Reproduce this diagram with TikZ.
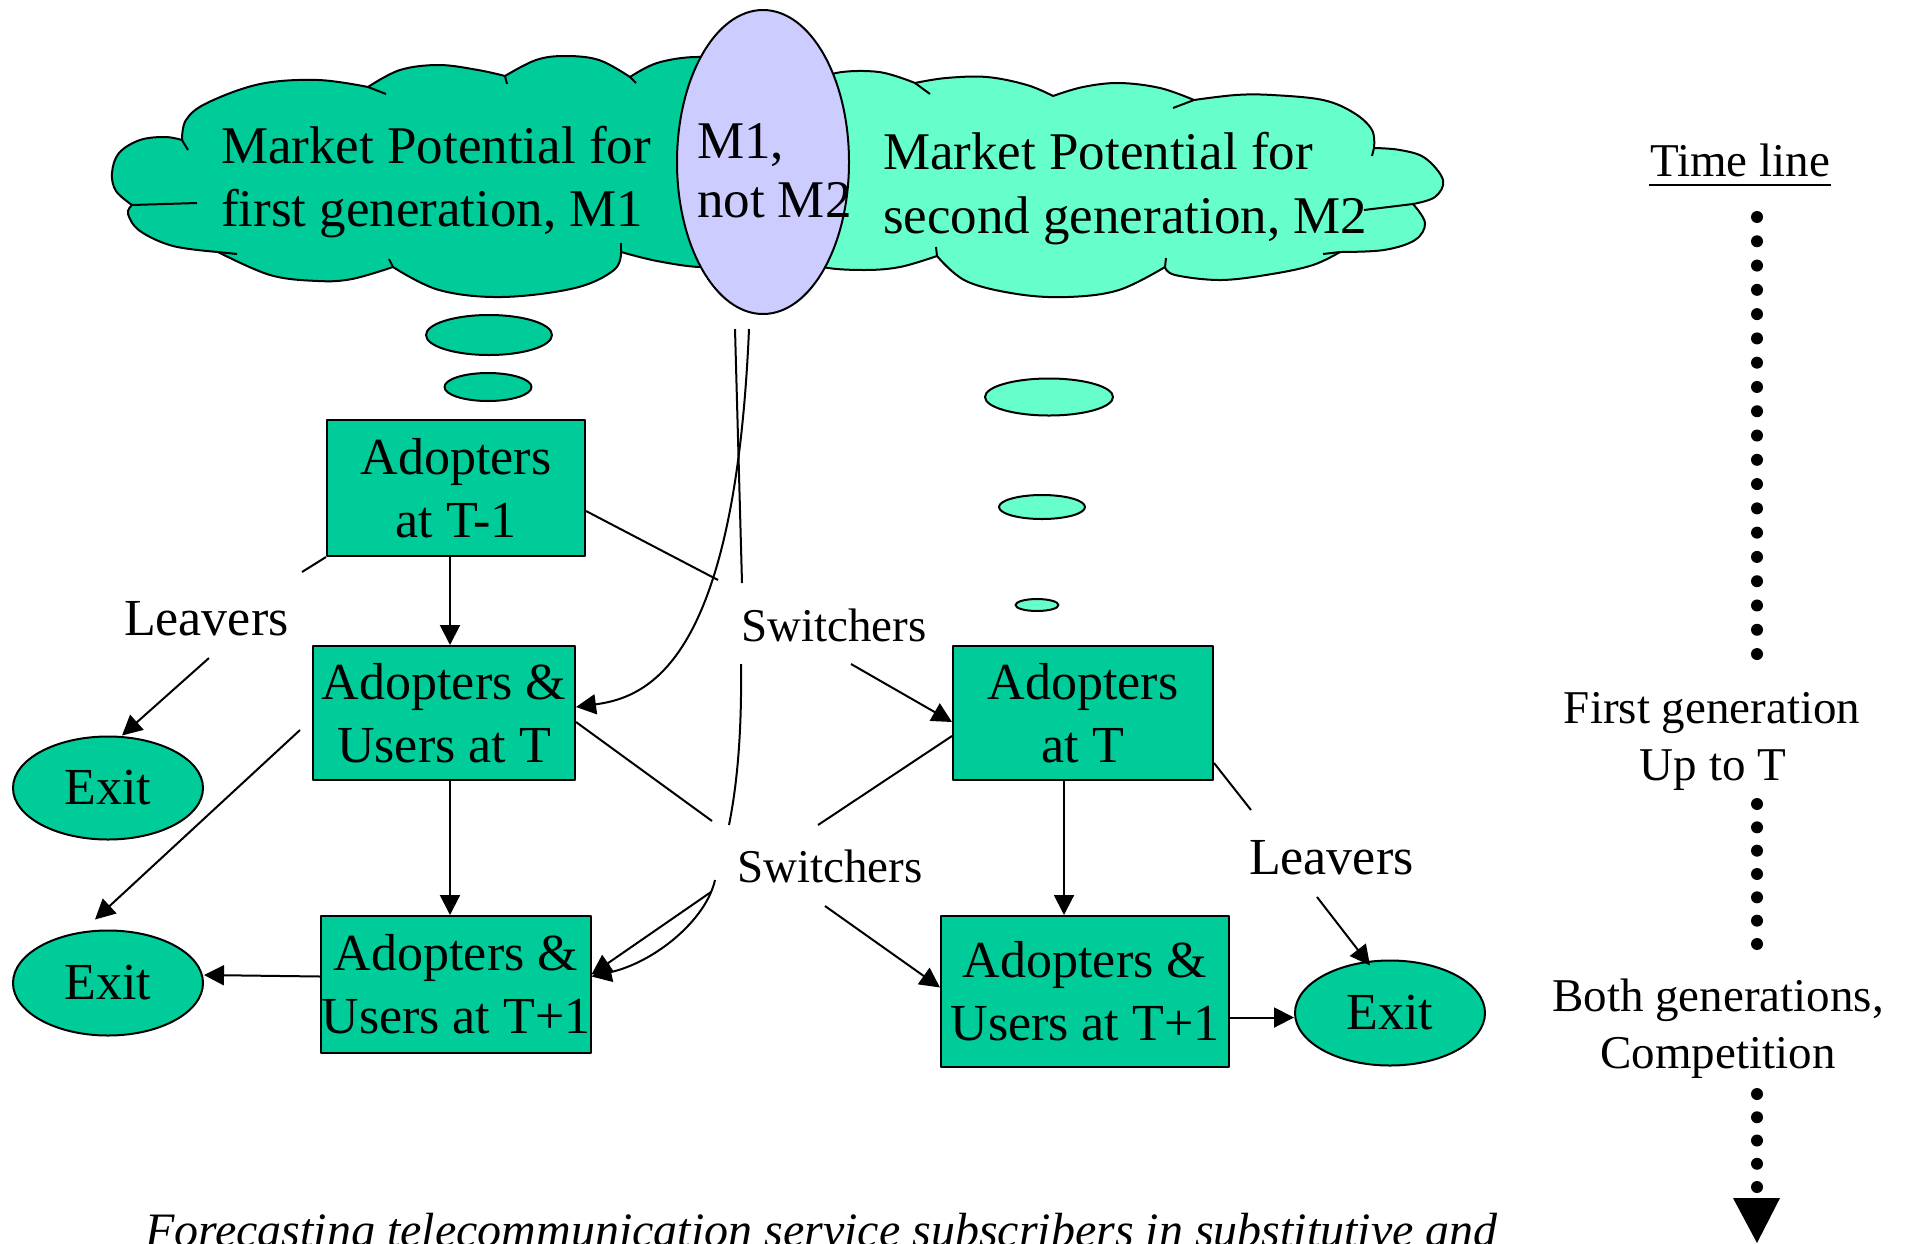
\documentclass[tikz,border=0pt]{standalone}
\usepackage{fontspec}
\setmainfont{Liberation Serif}
\usetikzlibrary{arrows.meta,shapes.geometric}
\definecolor{tealA}{HTML}{00CC99}
\definecolor{mintB}{HTML}{66FFCC}
\definecolor{lavC}{HTML}{CCCCFF}
\newcommand\fbig{\fontsize{53}{63}\selectfont}
\newcommand\fmain{\fontsize{52}{63}\selectfont}
\newcommand\fsmall{\fontsize{47}{56}\selectfont}
\newcommand\fcap{\fontsize{48}{57}\selectfont\itshape}
\begin{document}
\begin{tikzpicture}[x=1pt, y=-1pt, line width=2pt, line join=round,
  boxnode/.style={draw, fill=tealA, inner sep=0pt, align=center, font=\fmain},
  exitnode/.style={draw, fill=tealA, ellipse, inner sep=0pt, font=\fmain, minimum width=190pt},
  bub/.style={draw, ellipse, inner sep=0pt},
  arr/.style={-{Triangle[length=20pt,width=20pt]}},
  txt/.style={inner sep=0pt, anchor=base west},
  ctxt/.style={inner sep=0pt, anchor=base},
  pf/.style={smooth, tension=0.6}]
\useasboundingbox (0,0) rectangle (1908,1243);

% ---- left cloud (M1)
\path[draw, fill=tealA] (132,205)
 -- plot[pf] coordinates {(132,205) (116,191) (112,173) (119,153) (140,140) (165,137) (182,140)}
 -- plot[pf] coordinates {(182,140) (186,120) (207,103) (260,84) (318,80) (368,87)}
 -- plot[pf] coordinates {(368,87) (400,70) (439,65) (478,70) (505,76)}
 -- plot[pf] coordinates {(505,76) (536,60) (565,56) (599,60) (630,77)}
 -- plot[pf] coordinates {(630,77) (657,63) (696,57) (735,62) (760,85)}
 -- (775,160) -- (760,240)
 -- plot[pf] coordinates {(760,240) (735,262) (701,267) (657,261) (621,252)}
 -- plot[pf] coordinates {(621,252) (614,270) (575,288) (502,297) (439,290) (393,267)}
 -- plot[pf] coordinates {(393,267) (352,279) (318,281) (270,275) (218,252)}
 -- plot[pf] coordinates {(218,252) (173,246) (140,231) (128,214) (132,205)}
 -- cycle;
\draw (132,205) -- (197,203);
\draw (182,140) -- (188,150);
\draw (368,87) -- (386,94);
\draw (505,76) -- (507,84);
\draw (630,77) -- (636,83);
\draw (621,252) -- (621,243);
\draw (393,267) -- (389,259);
\draw (218,252) -- (237,254);

% ---- right cloud (M2)
\path[draw, fill=mintB] (800,110)
 -- plot[pf] coordinates {(800,110) (812,86) (836,73) (879,72) (915,83)}
 -- plot[pf] coordinates {(915,83) (946,78) (987,77) (1027,85) (1053,96)}
 -- plot[pf] coordinates {(1053,96) (1083,87) (1119,83) (1160,88) (1194,100)}
 -- plot[pf] coordinates {(1194,100) (1236,95) (1272,95) (1323,100) (1354,113) (1372,130) (1374,148)}
 -- plot[pf] coordinates {(1374,148) (1400,150) (1425,158) (1443,180) (1435,197) (1413,204)}
 -- plot[pf] coordinates {(1413,204) (1425,223) (1415,240) (1384,250) (1340,252)}
 -- plot[pf] coordinates {(1340,252) (1313,265) (1272,274) (1221,280) (1175,275) (1165,267)}
 -- plot[pf] coordinates {(1165,267) (1119,290) (1068,297) (1017,294) (966,281) (937,256)}
 -- plot[pf] coordinates {(937,256) (900,267) (864,270) (823,267) (800,255)}
 -- (790,180) -- cycle;
\draw (915,83) -- (930,94);
\draw (1194,100) -- (1173,108);
\draw (1374,148) -- (1372,156);
\draw (1413,204) -- (1364,210);
\draw (1340,252) -- (1323,254);
\draw (1165,267) -- (1166,258);
\draw (937,256) -- (936,247);

% ---- overlap ellipse
\node[draw, fill=lavC, ellipse, inner sep=0pt, minimum width=172pt, minimum height=304pt] (M12) at (763,162) {};

% cloud texts
\node[txt, font=\fbig] (t1a) at (220,163) {Market Potential for};
\node[txt, font=\fbig] (t1b) at (220,226) {first generation, M1};
\node[txt, font=\fbig] (t2a) at (882,169) {Market Potential for};
\node[txt, font=\fbig] (t2b) at (882,233) {second generation, M2};
\node[txt, font=\fbig] (t3a) at (696,158) {M1,};
\node[txt, font=\fbig] (t3b) at (696,217) {not M2};

% thought bubbles
\node[bub, fill=tealA, minimum width=126pt, minimum height=40pt] (bl1) at (489,335) {};
\node[bub, fill=tealA, minimum width=87pt, minimum height=28pt] (bl2) at (488,387) {};
\node[bub, fill=mintB, minimum width=128pt, minimum height=37pt] (br1) at (1049,397) {};
\node[bub, fill=mintB, minimum width=86pt, minimum height=24pt] (br2) at (1042,507) {};
\node[bub, fill=mintB, minimum width=43pt, minimum height=12pt] (br3) at (1037,605) {};

% boxes
\node[boxnode, minimum width=258pt, minimum height=136pt] (B1) at (456,488) {Adopters\\at T-1};
\node[boxnode, minimum width=262pt, minimum height=134pt] (B2) at (444,713) {Adopters \&\\Users at T};
\node[boxnode, minimum width=259pt, minimum height=137pt] (B3) at (456,984.5) {Adopters \&\\Users at T+1};
\node[boxnode, minimum width=260pt, minimum height=134pt] (B4) at (1083,713) {Adopters\\at T};
\node[boxnode, minimum width=288pt, minimum height=151pt] (B5) at (1085,991.5) {Adopters \&\\Users at T+1};

% exits
\node[exitnode, minimum height=103pt] (E1) at (108,788) {Exit};
\node[exitnode, minimum height=105pt] (E2) at (108,983) {Exit};
\node[exitnode, minimum height=105pt] (E3) at (1390,1013) {Exit};

% labels
\node[txt, font=\fmain] (lv1) at (123,635) {Leavers};
\node[txt, font=\fmain] (lv2) at (1248,874) {Leavers};
\node[txt, font=\fsmall] (sw1) at (740,641) {Switchers};
\node[txt, font=\fsmall] (sw2) at (736,882) {Switchers};

% free ends near labels / ellipse
\coordinate (lv1a) at (302,572);
\coordinate (lv1b) at (209,658);
\coordinate (lv2a) at (1251,810);
\coordinate (lv2b) at (1317,897);
\coordinate (s1in) at (718,580);
\coordinate (s1out) at (851,664);
\coordinate (a0) at (735,329);
\coordinate (a1) at (742,583);
\coordinate (a2) at (741,664);
\coordinate (a3) at (729,825);
\coordinate (a4) at (715,880);
\coordinate (b0) at (749,329);
\coordinate (s2a) at (712,821);
\coordinate (s2b) at (818,825);
\coordinate (s2c) at (711,892);
\coordinate (s2d) at (825,906);
\coordinate (b5e) at ([yshift=-26pt]B5.east);

% vertical flows
\draw[arr] ([xshift=-6pt]B1.south) -- ([xshift=-6pt]B1.south |- B2.north);
\draw[arr] ([xshift=6pt]B2.south) -- ([xshift=6pt]B2.south |- B3.north);
\draw[arr] ([xshift=-19pt]B4.south) -- ([xshift=-19pt]B4.south |- B5.north);
\draw[arr] ([yshift=8pt]B3.west) -- ([yshift=8pt]E2.east);
\draw[arr] (b5e) -- (b5e -| E3.west);

% leavers
\draw (B1.south west) -- (lv1a);
\draw[arr] (lv1b) -- ([xshift=14pt]E1.north);
\draw[arr] ([xshift=-12pt,yshift=-17pt]B2.west) -- ([xshift=-13pt,yshift=10pt]E2.north);
\draw ([yshift=-50pt]B4.east) -- (lv2a);
\draw[arr] (lv2b) -- ([xshift=-20pt,yshift=-6pt]E3.north);

% switchers
\draw ([yshift=-23pt]B1.east) -- (s1in);
\draw[arr] (s1out) -- ([yshift=-9pt]B4.west);
\draw (a0) -- (a1);
\draw (a2) .. controls (742,740) and (736,790) .. (a3);
\draw[arr] (a4) .. controls (706,920) and (655,962) .. ([yshift=8pt]B3.east);
\draw[arr] (b0) .. controls (735,660) and (650,697) .. ([yshift=6pt]B2.east);
\draw ([yshift=-9pt]B2.east) -- (s2a);
\draw ([yshift=-23pt]B4.west) -- (s2b);
\draw[arr] (s2c) -- ([yshift=10pt]B3.east);
\draw[arr] (s2d) -- ([yshift=4pt]B5.west);

% time line
\node[ctxt, font=\fsmall] (tl) at (1740,176) {Time line};
\draw ([yshift=-9pt]tl.base west) -- ([yshift=-9pt]tl.base east);
\node[ctxt, font=\fsmall] (fg1) at (1712,723) {First generation};
\node[ctxt, font=\fsmall] (fg2) at (1713,780) {Up to T};
\node[ctxt, font=\fsmall] (bg1) at (1718,1011) {Both generations,};
\node[ctxt, font=\fsmall] (bg2) at (1718,1068) {Competition};
\foreach \k in {0,...,18} \fill ({1757},{217+\k*24.28}) circle[radius=6pt];
\foreach \k in {0,...,6} \fill ({1757},{804+\k*23.33}) circle[radius=6pt];
\foreach \k in {0,...,4} \fill ({1757},{1094+\k*23.25}) circle[radius=6pt];
\coordinate (tipL) at (1733,1198);
\coordinate (tipR) at (1780,1198);
\coordinate (tipB) at (1757,1243);
\fill (tipL) -- (tipR) -- (tipB) -- cycle;

% caption
\node[txt, font=\fcap] (cap) at (144,1246) {Forecasting telecommunication service subscribers in substitutive and};
\end{tikzpicture}
\end{document}
